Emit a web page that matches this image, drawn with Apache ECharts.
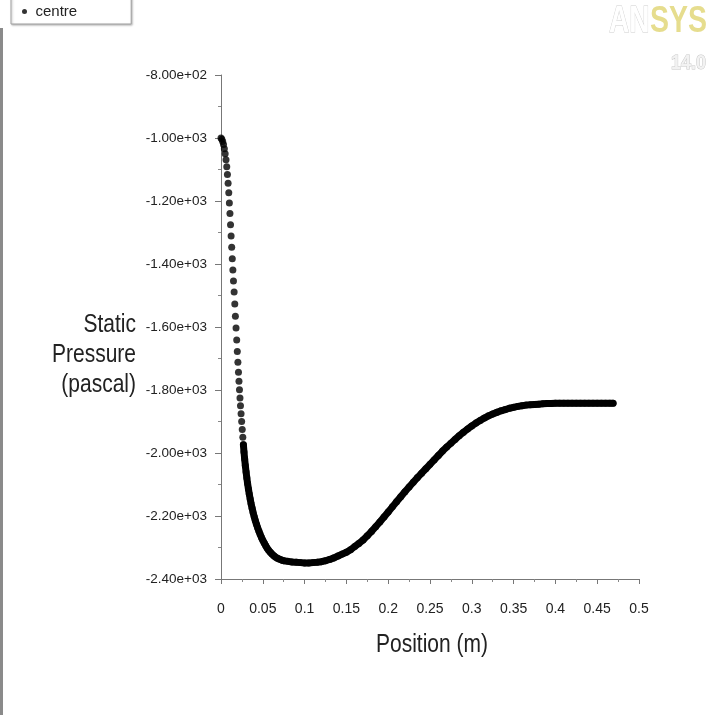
<!DOCTYPE html>
<html>
<head>
<meta charset="utf-8">
<script src="https://cdn.jsdelivr.net/npm/echarts@6/dist/echarts.min.js"></script>
<style>
html,body{margin:0;padding:0;background:#fff;}
#chart{width:718px;height:715px;}
</style>
</head>
<body>
<div id="chart"></div>
<script>
// Position along the centre line (m)
const positionM = [
  0.0000,0.0010,0.0020,0.0030,0.0040,0.0050,0.0060,0.0069,0.0077,0.0085,
  0.0093,0.0100,0.0107,0.0114,0.0121,0.0128,0.0135,0.0142,0.0149,0.0157,
  0.0165,0.0172,0.0180,0.0188,0.0195,0.0202,0.0209,0.0215,0.0221,0.0227,
  0.0233,0.0240,0.0247,0.0254,0.0261,0.0268,0.0275,0.0283,0.0291,0.0300,
  0.0309,0.0318,0.0328,0.0338,0.0349,0.0360,0.0372,0.0384,0.0397,0.0410,
  0.0424,0.0438,0.0453,0.0468,0.0484,0.0500,0.0517,0.0534,0.0552,0.0570,
  0.0590,0.0610,0.0630,0.0650,0.0675,0.0700,0.0725,0.0750,0.0800,0.0850,
  0.0900,0.0950,0.1000,0.1050,0.1100,0.1150,0.1200,0.1250,0.1300,0.1350,
  0.1400,0.1450,0.1500,0.1550,0.1600,0.1650,0.1700,0.1750,0.1800,0.1850,
  0.1900,0.1950,0.2000,0.2050,0.2100,0.2150,0.2200,0.2250,0.2300,0.2350,
  0.2400,0.2450,0.2500,0.2550,0.2600,0.2650,0.2700,0.2750,0.2800,0.2850,
  0.2900,0.2950,0.3000,0.3050,0.3100,0.3150,0.3200,0.3250,0.3300,0.3350,
  0.3400,0.3450,0.3500,0.3550,0.3600,0.3650,0.3700,0.3750,0.3800,0.3850,
  0.3900,0.3950,0.4000,0.4050,0.4100,0.4150,0.4200,0.4250,0.4300,0.4350,
  0.4400,0.4450,0.4500,0.4550,0.4600,0.4650,0.4690
];
// Static pressure (pascal)
const staticPressure = [
  -1000,-1004,-1011,-1021,-1034,-1050,-1069,-1091,-1116,-1144,
  -1174,-1206,-1240,-1275,-1311,-1347,-1383,-1419,-1454,-1489,
  -1527,-1566,-1603,-1641,-1678,-1712,-1744,-1772,-1799,-1825,
  -1850,-1875,-1900,-1925,-1950,-1974,-1997,-2019,-2040,-2060,
  -2079,-2097,-2114,-2130,-2146,-2161,-2175,-2189,-2202,-2214,
  -2226,-2237,-2248,-2258,-2268,-2277,-2286,-2294,-2302,-2309,
  -2315,-2321,-2326,-2330,-2334,-2337,-2340,-2342,-2344,-2346,
  -2347,-2348,-2349,-2349,-2348,-2347,-2345,-2342,-2338,-2333,
  -2327,-2321,-2315,-2307,-2297,-2287,-2276,-2263,-2249,-2234,
  -2219,-2203,-2187,-2171,-2155,-2139,-2123,-2108,-2093,-2078,
  -2064,-2050,-2036,-2022,-2008,-1994,-1981,-1969,-1957,-1945,
  -1934,-1924,-1914,-1905,-1897,-1889,-1882,-1876,-1871,-1866,
  -1862,-1858,-1855,-1852,-1850,-1848,-1847,-1846,-1845,-1844,
  -1843,-1843,-1842,-1842,-1842,-1842,-1842,-1842,-1842,-1842,
  -1842,-1842,-1842,-1842,-1842,-1842,-1842
];
// Index from which the plotted dots are so dense they merge into a solid band
const mergedFromIndex = 35;

const seriesName = 'centre';
const xAxisTitle = 'Position (m)';
const yAxisTitle = 'Static\nPressure\n(pascal)';

const SANS = '"Liberation Sans", Arial, sans-serif';

function expLabel(v) {
  const s = Number(v).toExponential(2);
  return s.replace(/e([+-])(\d)$/, 'e$10$2');
}

const points = positionM.map((x, i) => [x, staticPressure[i]]);
const mergedPoints = points.slice(mergedFromIndex);

const chart = echarts.init(document.getElementById('chart'));
chart.setOption({
  backgroundColor: '#ffffff',
  animation: false,
  grid: { left: 221, right: 79, top: 75, bottom: 136, containLabel: false },
  legend: {
    data: [seriesName],
    left: 11, top: -6,
    padding: [10, 54, 5, 11],
    icon: 'circle',
    itemWidth: 12, itemHeight: 5,
    backgroundColor: '#ffffff',
    borderColor: '#a0a0a0', borderWidth: 1,
    shadowColor: 'rgba(0,0,0,0.25)', shadowBlur: 2, shadowOffsetX: 1, shadowOffsetY: 1,
    textStyle: { fontFamily: SANS, fontSize: 15, color: '#222' }
  },
  xAxis: {
    type: 'value', min: 0, max: 0.5, interval: 0.05,
    axisLine: { show: true, onZero: false, lineStyle: { color: '#777', width: 1 } },
    axisTick: { show: true, inside: false, length: 5, lineStyle: { color: '#777' } },
    minorTick: { show: true, splitNumber: 2, length: 3, lineStyle: { color: '#888' } },
    splitLine: { show: false },
    axisLabel: { margin: 23, fontFamily: SANS, fontSize: 14, color: '#222' }
  },
  yAxis: {
    type: 'value', min: -2400, max: -800, interval: 200,
    axisLine: { show: true, onZero: false, lineStyle: { color: '#777', width: 1 } },
    axisTick: { show: true, inside: false, length: 6, lineStyle: { color: '#777' } },
    minorTick: { show: true, splitNumber: 2, length: 3, lineStyle: { color: '#888' } },
    splitLine: { show: false },
    axisLabel: { margin: 14, fontFamily: SANS, fontSize: 13.5, color: '#222', formatter: expLabel }
  },
  series: [{
    name: seriesName,
    type: 'scatter',
    symbol: 'circle',
    symbolSize: 7,
    itemStyle: { color: '#000000' },
    data: points,
    z: 3
  }, {
    name: seriesName,
    type: 'line',
    showSymbol: false,
    symbol: 'none',
    lineStyle: { color: '#000000', width: 7, cap: 'round', join: 'round' },
    data: mergedPoints,
    z: 2
  }],
  graphic: [
    { type: 'rect', x: 0, y: 28, shape: { width: 3, height: 690 }, style: { fill: '#8a8a8a' } },
    { type: 'text', x: 432, y: 645, scaleX: 0.84,
      style: { text: xAxisTitle, font: '25px ' + SANS, fill: '#222', align: 'center', verticalAlign: 'middle' } },
    { type: 'text', x: 136, y: 310, scaleX: 0.84,
      style: { text: yAxisTitle, font: '25px ' + SANS, fill: '#222', align: 'right', verticalAlign: 'top', lineHeight: 30 } },
    { type: 'text', x: 609, y: 3, scaleX: 0.76,
      style: { text: 'AN', font: 'bold 37px ' + SANS, fill: '#ffffff', stroke: '#cfcfcf', lineWidth: 1 } },
    { type: 'text', x: 650, y: 3, scaleX: 0.77,
      style: { text: 'SYS', font: 'bold 37px ' + SANS, fill: '#e6dd8e' } },
    { type: 'text', x: 671, y: 53, scaleX: 0.9,
      style: { text: '14.0', font: 'bold 20px ' + SANS, fill: '#f2f2f2', stroke: '#c8c8c8', lineWidth: 1 } }
  ]
});
</script>
</body>
</html>
